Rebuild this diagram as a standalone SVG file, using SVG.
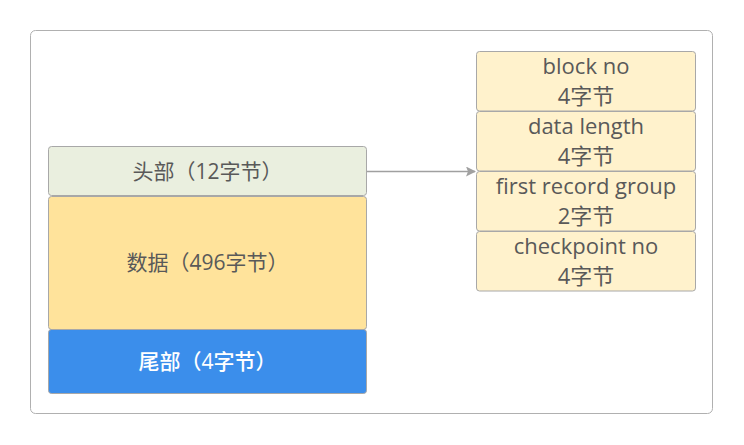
<svg xmlns="http://www.w3.org/2000/svg" width="744" height="445" viewBox="0 0 744 445">
<style>
  text { font-family: "Open Sans", "Noto Sans CJK SC", sans-serif; font-size: 21px; fill: #595959; text-anchor: middle; }
  .box { stroke: #a8a8a8; stroke-width: 1; }
  .field { fill: #fff2cc; }
  .field-text { font-size: 22px; }
  .tail-text { fill: #ffffff; font-weight: 500; }
  .conn { stroke: #a0a0a0; stroke-width: 1.5; fill: none; }
</style>
<defs>
  <marker id="arrow" markerWidth="10" markerHeight="10" refX="9" refY="5" orient="auto" markerUnits="userSpaceOnUse" viewBox="0 0 10 10">
    <path d="M0,0 L10,5 L0,10 L2,5 Z" fill="#a0a0a0"/>
  </marker>
</defs>
<rect width="744" height="445" fill="#ffffff"/>
<g id="frame">
  <rect x="30.5" y="30.5" width="682" height="383" rx="5" fill="#ffffff" stroke="#b0b0b0" stroke-width="1"/>
</g>
<g id="header">
  <rect class="box" x="48.5" y="146.5" width="318" height="49" rx="3" fill="#eaefdf"/>
  <text x="207.5" y="179">头部（12字节）</text>
</g>
<g id="data">
  <rect class="box" x="48.5" y="196.5" width="318" height="133" rx="3" fill="#ffe39b"/>
  <text x="207.5" y="269.5">数据（496字节）</text>
</g>
<g id="tail">
  <rect class="box" x="48.5" y="329.5" width="318" height="64" rx="3" fill="#3b8eeb"/>
  <text class="tail-text" x="207.5" y="369">尾部（4字节）</text>
</g>
<g id="block-no">
  <rect class="box field" x="476.5" y="51.5" width="219" height="59.5" rx="3"/>
  <text class="field-text" x="586" y="74">block no</text>
  <text class="field-text" x="586" y="104">4字节</text>
</g>
<g id="data-length">
  <rect class="box field" x="476.5" y="111.5" width="219" height="59.5" rx="3"/>
  <text class="field-text" x="586" y="134">data length</text>
  <text class="field-text" x="586" y="164">4字节</text>
</g>
<g id="first-record-group">
  <rect class="box field" x="476.5" y="171.5" width="219" height="59.5" rx="3"/>
  <text class="field-text" x="586" y="194">first record group</text>
  <text class="field-text" x="586" y="224">2字节</text>
</g>
<g id="checkpoint-no">
  <rect class="box field" x="476.5" y="231.5" width="219" height="59.5" rx="3"/>
  <text class="field-text" x="586" y="254">checkpoint no</text>
  <text class="field-text" x="586" y="284">4字节</text>
</g>
<g id="connectors">
  <line class="conn" x1="367" y1="171.5" x2="475" y2="171.5" marker-end="url(#arrow)"/>
</g>
</svg>
